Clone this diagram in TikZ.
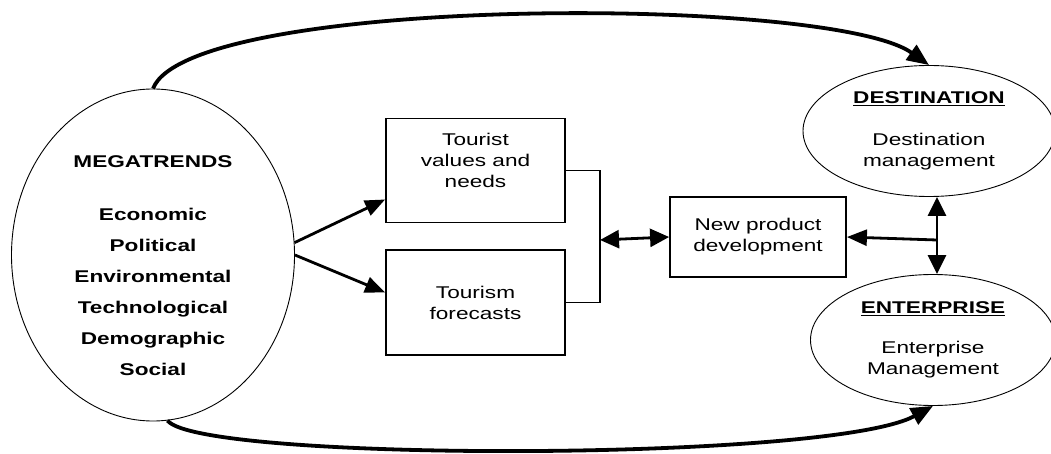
\documentclass[tikz,border=0pt]{standalone}
\usepackage{fontspec}
\setmainfont{Liberation Sans}[FakeStretch=1.33]
\usetikzlibrary{shapes.geometric,arrows.meta}

\tikzset{
  oval/.style={draw, ellipse, line width=0.9pt, inner sep=0pt, align=center},
  textbox/.style={draw, rectangle, line width=1.8pt, inner sep=0pt, align=center},
  flow/.style={line width=2.8pt, -{Triangle[length=20pt,width=16pt]}},
  dflow/.style={line width=2.8pt, {Triangle[length=19pt,width=18pt]}-{Triangle[length=19pt,width=18pt]}},
  bigflow/.style={line width=3.8pt, -{Triangle[length=22pt,width=18pt]}},
}

\begin{document}
\begin{tikzpicture}[x=1pt, y=-1pt, font=\fontsize{17}{21}\selectfont]
    \useasboundingbox (0,0) rectangle (1051,454);
    % megatrends
    \node[oval, minimum width=283pt, minimum height=332pt] (mega) at (153,255) {};
    \node[align=center, font=\fontsize{17}{31}\selectfont\bfseries] (megatext) at (153,266)
        {MEGATRENDS\\[22pt]Economic\\Political\\Environmental\\Technological\\Demographic\\Social};
    % boxes
    \node[textbox, minimum width=179pt, minimum height=104pt] (values) at (475.5,170.5) {Tourist\\values and\\needs\\\mbox{}};
    \node[textbox, minimum width=179pt, minimum height=105pt] (forecast) at (475.5,302.5) {Tourism\\forecasts};
    \node[textbox, minimum width=176pt, minimum height=80pt] (npd) at (758,237) {New product\\development};
    % destination and enterprise
    \node[oval, minimum width=252pt, minimum height=131pt] (dest) at (929,131)
        {\textbf{\underline{DESTINATION}}\\[21pt]Destination\\management};
    \node[oval, minimum width=245pt, minimum height=131pt] (ent) at (933,340)
        {\textbf{\underline{ENTERPRISE}}\\[19pt]Enterprise\\Management};
    \coordinate (fork) at (600,240);
    \coordinate (split) at (937,240);
    % connectors
    \draw[flow] (mega.5) -- ([yshift=-29pt]values.west);
    \draw[flow] (mega.0) -- ([yshift=10pt]forecast.west);
    \draw[line width=1.8pt] (values.east) -| (fork) |- (forecast.east);
    \draw[dflow] (fork) -- (npd.west);
    \draw[flow] (split) -- (npd.east);
    \draw[dflow] (split |- dest.south) -- (split |- ent.north);
    \draw[bigflow] (mega.north) .. controls (190,-5) and (830,-5) .. (dest.north);
    \draw[bigflow] (mega.-85) .. controls (200,462) and (830,462) .. (ent.south);
\end{tikzpicture}
\end{document}
